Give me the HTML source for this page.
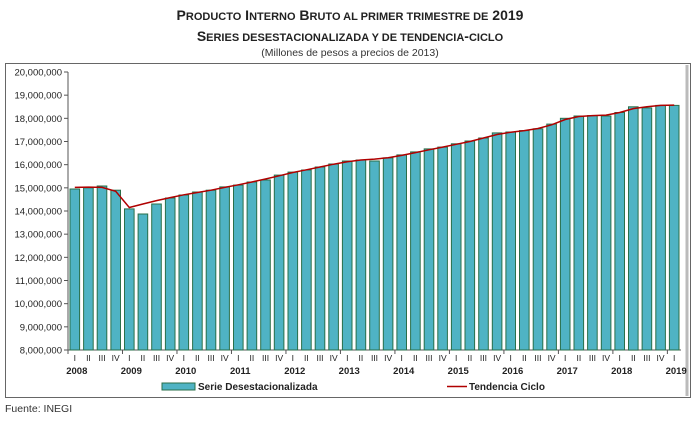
<!DOCTYPE html>
<html><head><meta charset="utf-8"><style>
body{margin:0;background:#fff;width:700px;height:418px;overflow:hidden;font-family:"Liberation Sans",sans-serif}
</style></head><body>
<svg width="700" height="418" xmlns="http://www.w3.org/2000/svg" font-family="Liberation Sans, sans-serif">
<text x="350" y="20" text-anchor="middle" font-size="14" font-weight="bold" fill="#222">P<tspan font-size="11">RODUCTO</tspan> I<tspan font-size="11">NTERNO</tspan> B<tspan font-size="11">RUTO AL PRIMER TRIMESTRE DE</tspan> 2019</text>
<text x="350" y="41" text-anchor="middle" font-size="14" font-weight="bold" fill="#222">S<tspan font-size="11">ERIES DESESTACIONALIZADA Y DE TENDENCIA</tspan>-<tspan font-size="11">CICLO</tspan></text>
<text x="350" y="56" text-anchor="middle" font-size="10.5" fill="#333">(Millones de pesos a precios de 2013)</text>
<rect x="5.5" y="63.5" width="685" height="334" fill="#fff" stroke="#666" stroke-width="1"/>
<line x1="687" y1="65" x2="687" y2="396" stroke="#bbb" stroke-width="3"/>
<g id="g"></g>
<text x="5" y="412" font-size="10.5" fill="#333">Fuente: INEGI</text>
</svg>
<script>
const v=[14.95,15.0,15.08,14.9,14.09,13.87,14.3,14.56,14.69,14.82,14.9,15.04,15.12,15.25,15.34,15.55,15.68,15.77,15.9,16.03,16.16,16.2,16.16,16.29,16.42,16.55,16.68,16.76,16.9,17.02,17.15,17.37,17.41,17.47,17.55,17.75,18.0,18.1,18.12,18.1,18.25,18.5,18.45,18.56,18.56,18.55];
const t=[15.02,15.03,15.02,14.85,14.15,14.3,14.45,14.58,14.7,14.8,14.9,15.02,15.13,15.25,15.38,15.52,15.66,15.78,15.9,16.02,16.13,16.2,16.24,16.3,16.4,16.52,16.64,16.76,16.88,17.0,17.15,17.3,17.4,17.47,17.56,17.72,17.95,18.08,18.12,18.14,18.25,18.42,18.5,18.56,18.57,18.56];
const X0=68,X1=681,Y20=72,Y8=350,n=45,w=(X1-X0)/n;
const y=val=>Y8-(val-8)*(Y8-Y20)/12;
let s='';
for(let i=0;i<=12;i++){const yy=y(8+i);s+=`<line x1="${X0-4}" y1="${yy}" x2="${X0}" y2="${yy}" stroke="#555"/><text x="${X0-6}" y="${yy+3.5}" text-anchor="end" font-size="9.5" fill="#222">${(8+i)+',000,000'}</text>`;}
s+=`<line x1="${X0}" y1="${Y20}" x2="${X0}" y2="${Y8}" stroke="#555"/><line x1="${X0}" y1="${Y8}" x2="${X1}" y2="${Y8}" stroke="#555"/>`;
const q=['I','II','III','IV'];
for(let i=0;i<n;i++){const x=X0+i*w;s+=`<rect x="${(x+2).toFixed(1)}" y="${y(v[i]).toFixed(1)}" width="${(w-4).toFixed(1)}" height="${(Y8-y(v[i])).toFixed(1)}" fill="#4fb3c4" stroke="#2a6f4a" stroke-width="1"/>`;
s+=`<text x="${x+w/2}" y="361" text-anchor="middle" font-size="8.5" fill="#222">${q[i%4]}</text>`;
if(i%4==0){s+=`<line x1="${x}" y1="${Y8}" x2="${x}" y2="${Y8+4}" stroke="#555"/><text x="${x+w/2+2}" y="374" text-anchor="middle" font-size="9.5" font-weight="bold" fill="#222">${2008+i/4}</text>`;}}
let p='';for(let i=0;i<n;i++){p+=(i?'L':'M')+(X0+i*w+w/2).toFixed(1)+' '+y(t[i]).toFixed(1);}
s+=`<path d="${p}" fill="none" stroke="#b00000" stroke-width="1.5"/>`;
s+=`<rect x="162" y="383" width="33" height="7" fill="#4fb3c4" stroke="#2a6f4a"/><text x="198" y="390" font-size="10" font-weight="bold" fill="#222">Serie Desestacionalizada</text>`;
s+=`<line x1="447" y1="386.5" x2="467" y2="386.5" stroke="#b00000" stroke-width="1.5"/><text x="469" y="390" font-size="10" font-weight="bold" fill="#222">Tendencia Ciclo</text>`;
document.getElementById('g').innerHTML=s;
</script>
</body></html>
